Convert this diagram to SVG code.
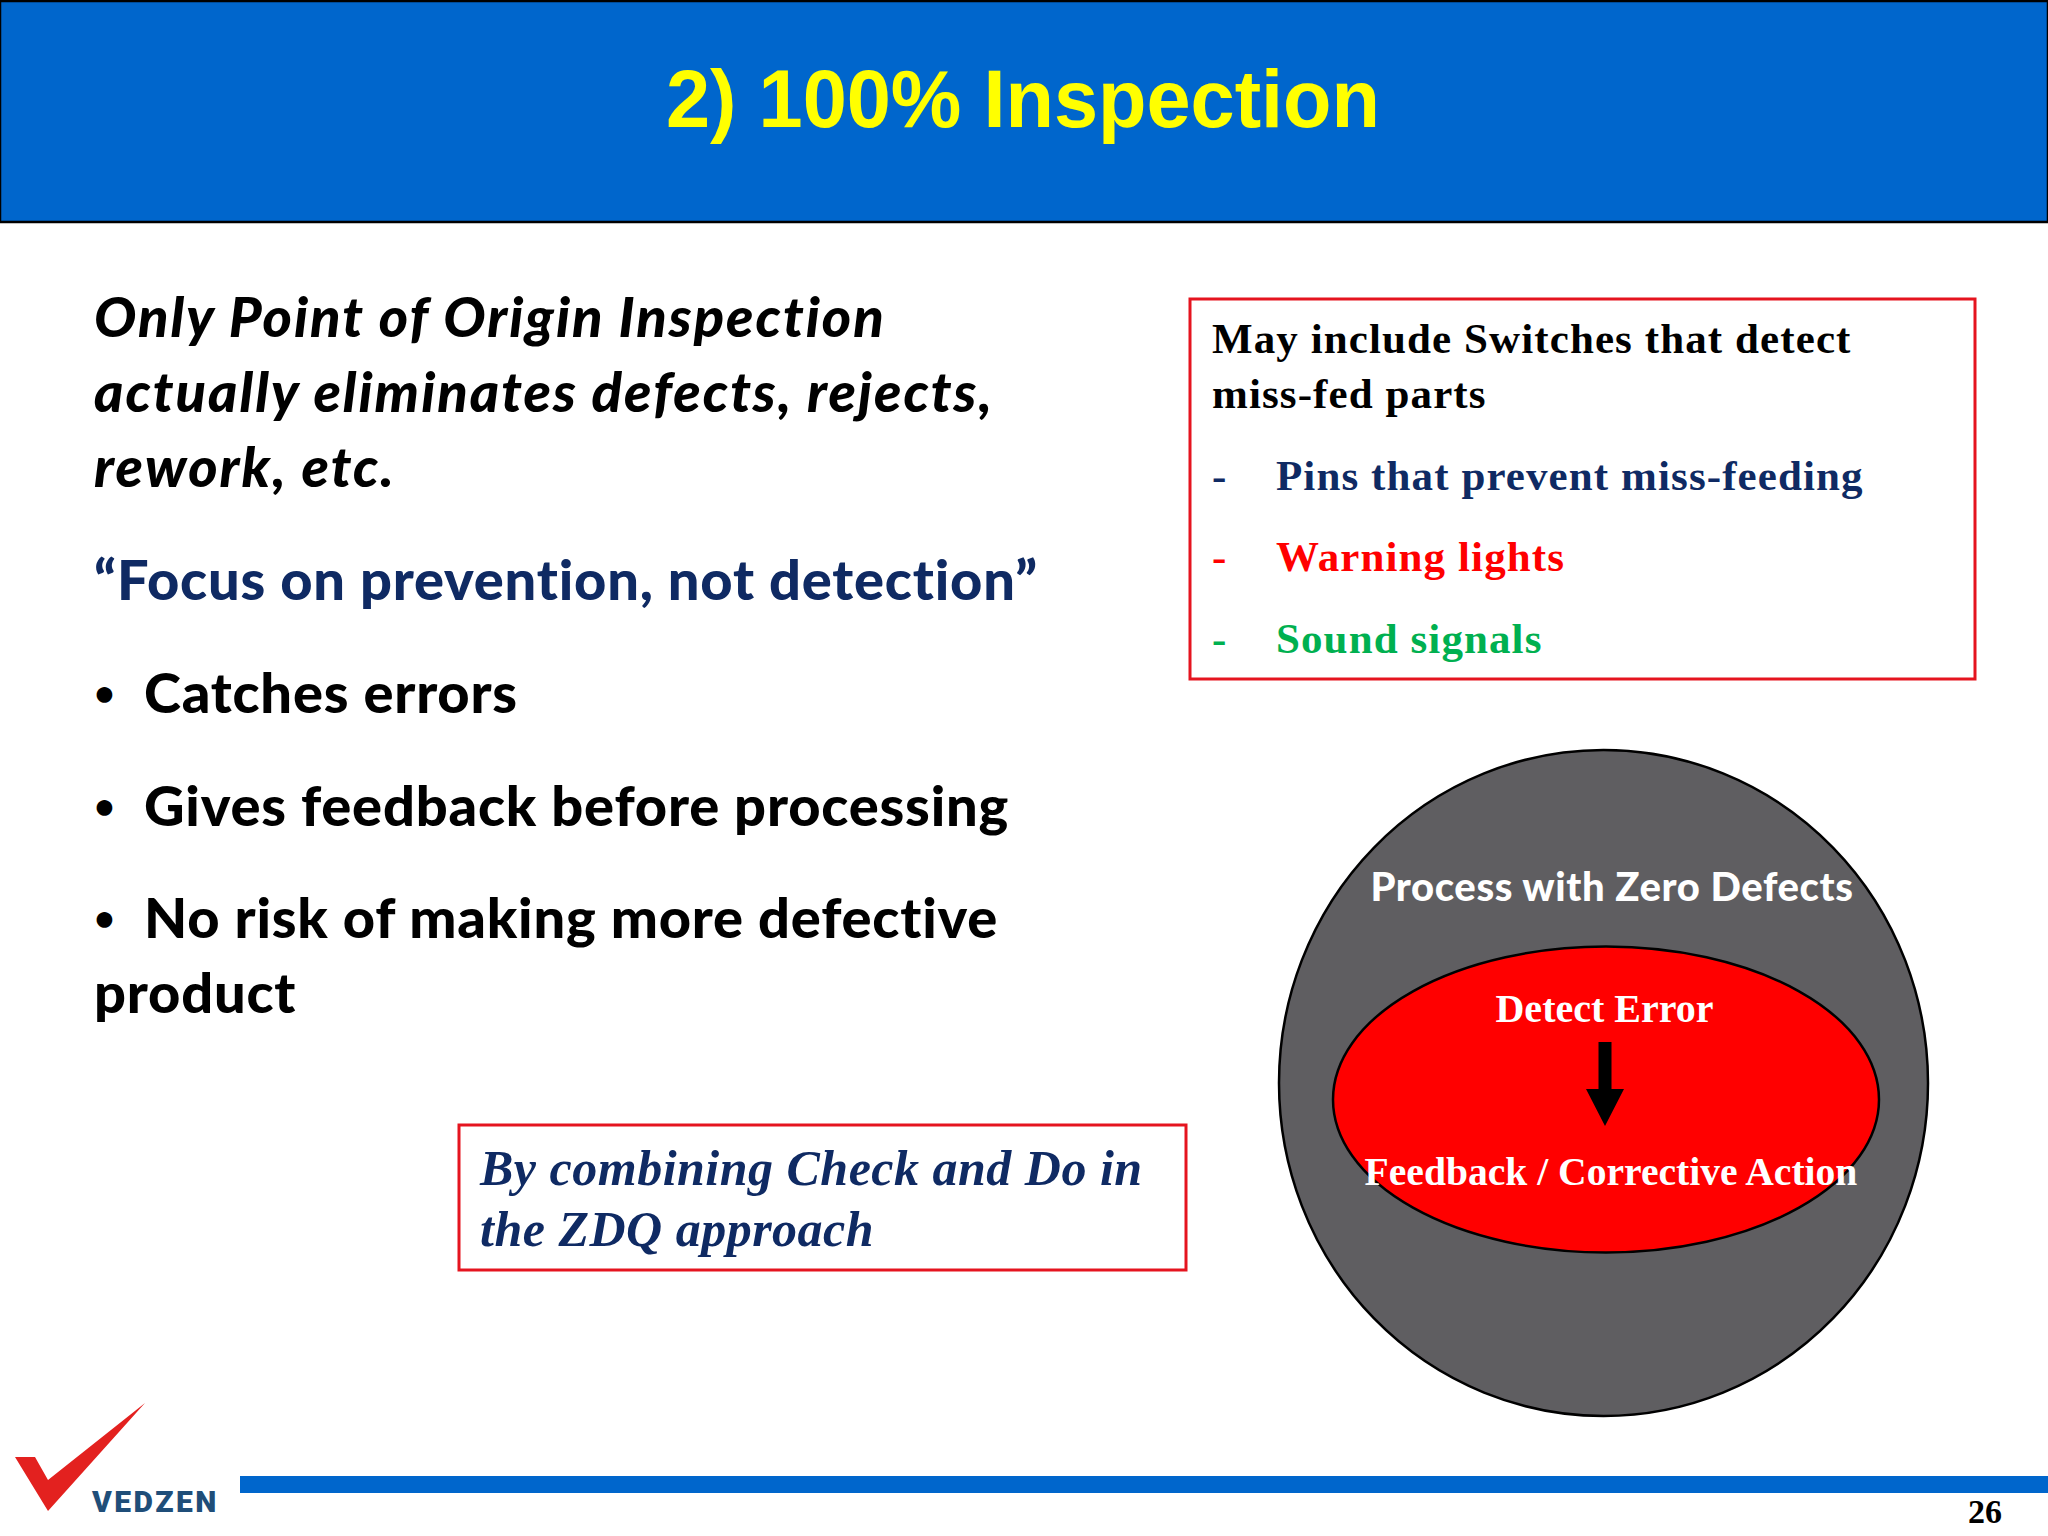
<svg xmlns="http://www.w3.org/2000/svg" width="2048" height="1536" viewBox="0 0 2048 1536">
<style>
.b{font-family:"Lato","Liberation Sans",sans-serif;font-weight:900;font-size:56px;fill:#000;font-variant-ligatures:none;letter-spacing:.8px}
.d{font-family:"Lato","Liberation Sans",sans-serif;font-weight:700;font-size:36px;fill:#000}
.i{font-style:italic;letter-spacing:2px}
.n{fill:#0f2a63}
.t{font-family:"Liberation Serif",serif;font-weight:700;font-size:43px;fill:#000;letter-spacing:1.1px}
.z{font-size:50px;fill:#0f2a63;letter-spacing:.5px}
.c{font-size:40px;fill:#fff;letter-spacing:0}
.box{fill:none;stroke:#e5141f;stroke-width:3}
</style>
<rect width="2048" height="1536" fill="#fff"/>
<g id="header">
<rect x="0" y="1" width="2048" height="221" fill="#0066cc" stroke="#000" stroke-width="2.5"/>
<text x="666" y="127" textLength="714" lengthAdjust="spacingAndGlyphs" font-family="Liberation Sans, sans-serif" font-weight="700" font-size="81" fill="#ffff00">2) 100% Inspection</text>
</g>
<g id="main-text">
<text class="b i" x="94" y="337">Only Point of Origin Inspection</text>
<text class="b i" x="94" y="412">actually eliminates defects, rejects,</text>
<text class="b i" x="94" y="487">rework, etc.</text>
<text class="b n" x="94" y="600">“Focus on prevention, not detection”</text>
<text class="d" x="94" y="706">•</text><text class="b" x="144" y="713">Catches errors</text>
<text class="d" x="94" y="819">•</text><text class="b" x="144" y="826">Gives feedback before processing</text>
<text class="d" x="94" y="931">•</text><text class="b" x="144" y="938">No risk of making more defective</text>
<text class="b" x="94" y="1013">product</text>
</g>
<g id="switches-box">
<rect class="box" x="1190" y="299" width="785" height="380"/>
<text class="t" x="1212" y="353">May include Switches that detect</text>
<text class="t" x="1212" y="408">miss-fed parts</text>
<text class="t" x="1212" y="490" style="fill:#0f2a63">-</text><text class="t" x="1276" y="490" style="fill:#0f2a63">Pins that prevent miss-feeding</text>
<text class="t" x="1212" y="571" style="fill:#ff0000">-</text><text class="t" x="1276" y="571" style="fill:#ff0000">Warning lights</text>
<text class="t" x="1212" y="653" style="fill:#00b050">-</text><text class="t" x="1276" y="653" style="fill:#00b050">Sound signals</text>
</g>
<g id="zdq-box">
<rect class="box" x="459" y="1125" width="727" height="145"/>
<text class="t i z" x="480" y="1185">By combining Check and Do in</text>
<text class="t i z" x="480" y="1246">the ZDQ approach</text>
</g>
<g id="process-circle">
<ellipse cx="1603.500" cy="1083" rx="324.500" ry="333" fill="#5f5e61" stroke="#000" stroke-width="2.500"/>
<text class="b" x="1612" y="901" text-anchor="middle" style="font-size:40px;fill:#fff;letter-spacing:.6px">Process with Zero Defects</text>
</g>
<g id="error-ellipse">
<ellipse cx="1606" cy="1099.500" rx="273" ry="153" fill="#ff0000" stroke="#000" stroke-width="2.500"/>
<text class="t c" x="1604.500" y="1022" text-anchor="middle">Detect Error</text>
<text class="t c" x="1611" y="1185" text-anchor="middle" style="font-size:39.600px">Feedback / Corrective Action</text>
</g>
<g id="connectors">
<polygon points="1598.500,1042 1611.500,1042 1611.500,1089 1624,1089 1605,1126 1586,1089 1598.500,1089" fill="#000"/>
</g>
<g id="footer">
<rect x="240" y="1476" width="1808" height="17" fill="#0066cc"/>
<polygon points="15,1457 35,1457 48,1480 145,1403 48,1511" fill="#e3211f"/>
<text x="92" y="1512" font-family="Roboto, Liberation Sans, sans-serif" font-weight="900" font-size="30" letter-spacing="2.500" fill="#1f4e79">VEDZEN</text>
<text class="t" x="1968" y="1523" style="font-size:34px;letter-spacing:0">26</text>
</g>
</svg>
